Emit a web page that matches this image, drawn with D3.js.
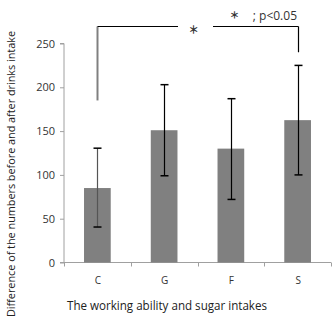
<!DOCTYPE html>
<html><head><meta charset="utf-8">
<script src="https://cdn.jsdelivr.net/npm/d3@7"></script>
<style>body{margin:0;background:#fff}svg{display:block}text{font-family:"Open Sans","DejaVu Sans",sans-serif}</style>
</head><body>
<script>
const categories = ["C","G","F","S"];
const means = [85, 151, 130, 162.5];
const errLow = [40.5, 99, 72, 100];
const errHigh = [130.5, 203, 187, 225];
const yTicks = [0,50,100,150,200,250];
const yLabel = "Difference of the numbers before and after drinks intake";
const xLabel = "The working ability and sugar intakes";
const sigMark = "⚹";
const sigNote = "; p<0.05";

const W=332,H=321;
const svg=d3.select("body").append("svg").attr("width",W).attr("height",H);
const x=d3.scaleBand().domain(categories).range([64,331]).paddingInner(0.6).paddingOuter(0.3);
const y=d3.scaleLinear().domain([0,250]).range([262.5,43.5]);

// y axis
const yAx=svg.append("g").attr("transform","translate(64,0)")
  .call(d3.axisLeft(y).tickValues(yTicks).tickSize(4).tickPadding(5));
yAx.select(".domain").attr("stroke","#a0a0a0").attr("d","M-4,"+y(250)+"H0V"+y(0)+"H-4");
yAx.selectAll(".tick line").attr("stroke","#a0a0a0");
yAx.selectAll(".tick text").attr("font-family","DejaVu Sans").attr("font-size",11).attr("fill","#333");

// x axis line and ticks at band boundaries
svg.append("line").attr("x1",64).attr("x2",331).attr("y1",y(0)).attr("y2",y(0)).attr("stroke","#a0a0a0");
for(let i=0;i<=categories.length;i++){
  const bx=Math.round(64+i*x.step())+0.5;
  svg.append("line").attr("x1",bx).attr("x2",bx).attr("y1",y(0)).attr("y2",y(0)+4).attr("stroke","#a0a0a0");
}
svg.selectAll(".xl").data(categories).enter().append("text")
  .attr("x",d=>x(d)+x.bandwidth()/2+0.5).attr("y",284).attr("text-anchor","middle")
  .attr("font-family","DejaVu Sans").attr("font-size",10).attr("fill","#333").text(d=>d);

// bars
svg.selectAll(".bar").data(categories).enter().append("rect")
  .attr("x",d=>x(d)).attr("width",x.bandwidth())
  .attr("y",(d,i)=>y(means[i])).attr("height",(d,i)=>y(0)-y(means[i]))
  .attr("fill","#808080");

// error bars
categories.forEach((c,i)=>{
  const cx=Math.round(x(c)+x.bandwidth()/2)+0.5;
  svg.append("line").attr("x1",cx).attr("x2",cx).attr("y1",y(errHigh[i])).attr("y2",y(errLow[i]))
    .attr("stroke",i===0?"#555":"#000").attr("stroke-width",1.2);
  [errHigh[i],errLow[i]].forEach(v=>{
    svg.append("line").attr("x1",cx-4).attr("x2",cx+4).attr("y1",y(v)).attr("y2",y(v))
      .attr("stroke","#000").attr("stroke-width",1.5);
  });
});

// significance bracket
const cxC=Math.round(x("C")+x.bandwidth()/2)+0.5;
const cxS=Math.round(x("S")+x.bandwidth()/2)+0.5;
const topY=26.5;
svg.append("line").attr("x1",cxC).attr("x2",cxC).attr("y1",topY).attr("y2",y(185))
  .attr("stroke","#808080").attr("stroke-width",2);
svg.append("line").attr("x1",cxC).attr("x2",178).attr("y1",topY).attr("y2",topY).attr("stroke","#000").attr("stroke-width",1.2);
svg.append("line").attr("x1",213).attr("x2",cxS).attr("y1",topY).attr("y2",topY).attr("stroke","#000").attr("stroke-width",1.2);
svg.append("line").attr("x1",cxS).attr("x2",cxS).attr("y1",topY).attr("y2",y(240)).attr("stroke","#000").attr("stroke-width",1.2);
svg.append("text").attr("transform","translate(196,29) rotate(90)").attr("text-anchor","middle")
  .attr("dominant-baseline","central")
  .attr("font-family","DejaVu Sans").attr("font-size",15).attr("fill","#333").text(sigMark);
svg.append("text").attr("transform","translate(236,15) rotate(90)").attr("text-anchor","middle")
  .attr("dominant-baseline","central")
  .attr("font-family","DejaVu Sans").attr("font-size",13).attr("fill","#333").text(sigMark);
svg.append("text").attr("x",297).attr("y",20).attr("text-anchor","end")
  .attr("font-size",12).attr("fill","#333").text(sigNote);

// axis labels
svg.append("text").attr("transform","translate(15,174) rotate(-90)").attr("text-anchor","middle")
  .attr("font-size",11.5).attr("fill","#222").attr("textLength",286).attr("lengthAdjust","spacingAndGlyphs").text(yLabel);
svg.append("text").attr("x",167).attr("y",310).attr("text-anchor","middle")
  .attr("font-size",12).attr("fill","#222").attr("textLength",200).attr("lengthAdjust","spacingAndGlyphs").text(xLabel);
</script>
</body></html>
